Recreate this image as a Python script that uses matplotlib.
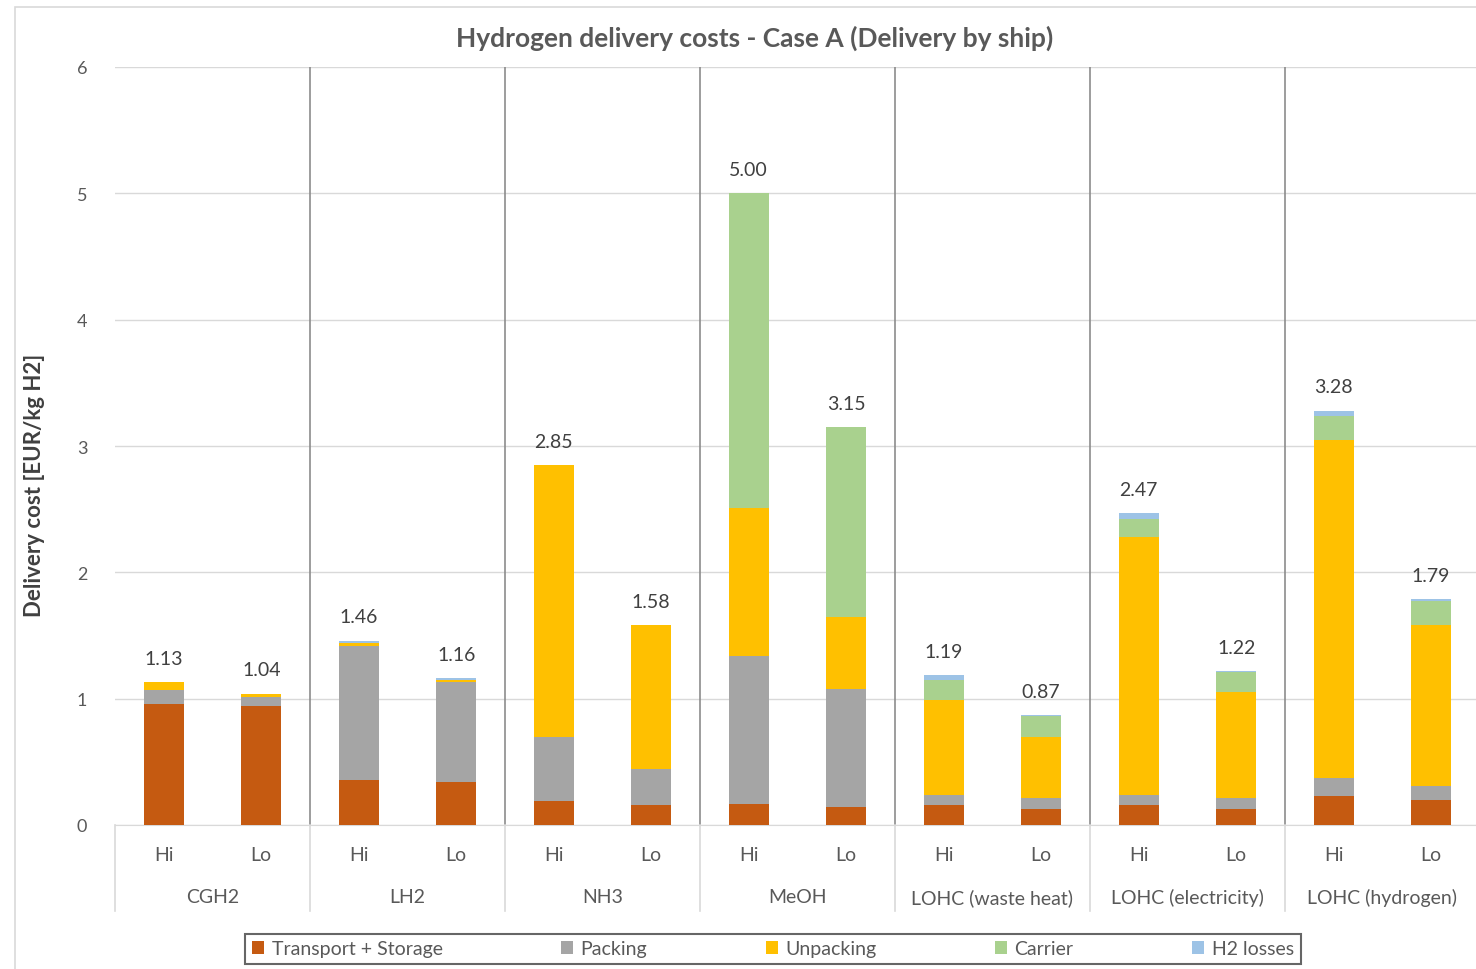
import matplotlib
matplotlib.use("Agg")
import matplotlib.pyplot as plt
import matplotlib.transforms as mtransforms
from matplotlib.patches import Rectangle
from matplotlib.lines import Line2D
import numpy as np

plt.rcParams['font.family'] = ['Lato', 'DejaVu Sans']

groups = ["CGH2", "LH2", "NH3", "MeOH", "LOHC (waste heat)", "LOHC (electricity)", "LOHC (hydrogen)"]
cases = ["Hi", "Lo"]
series = ["Transport + Storage", "Packing", "Unpacking", "Carrier", "H2 losses"]
colors = ["#C55A11", "#A5A5A5", "#FFC000", "#A9D18E", "#9DC3E6"]

transport = [0.96, 0.94, 0.36, 0.34, 0.19, 0.16, 0.17, 0.14, 0.16, 0.13, 0.16, 0.13, 0.23, 0.20]
packing   = [0.11, 0.07, 1.06, 0.79, 0.51, 0.28, 1.17, 0.94, 0.08, 0.08, 0.08, 0.08, 0.14, 0.11]
unpacking = [0.06, 0.03, 0.02, 0.02, 2.15, 1.14, 1.17, 0.57, 0.75, 0.49, 2.04, 0.84, 2.68, 1.27]
carrier   = [0.00, 0.00, 0.00, 0.00, 0.00, 0.00, 2.49, 1.50, 0.16, 0.16, 0.14, 0.16, 0.19, 0.19]
losses    = [0.00, 0.00, 0.02, 0.01, 0.00, 0.00, 0.00, 0.00, 0.04, 0.01, 0.05, 0.01, 0.04, 0.02]
totals    = [1.13, 1.04, 1.46, 1.16, 2.85, 1.58, 5.00, 3.15, 1.19, 0.87, 2.47, 1.22, 3.28, 1.79]

W, H = 1476, 970
fig = plt.figure(figsize=(W / 100, H / 100), dpi=100)

# outer chart border
fig.patches.append(Rectangle((15 / W, -0.01), 1.02, (H - 8) / H + 0.01, transform=fig.transFigure,
                             fill=False, edgecolor="#D9D9D9", linewidth=1.2))

ax = fig.add_axes([115 / W, (H - 826) / H, (W - 115) / W, 758 / H])

data = [transport, packing, unpacking, carrier, losses]
x = np.arange(len(totals))
bottom = np.zeros(len(totals))
bars = []
for vals, name, col in zip(data, series, colors):
    b = ax.bar(x, vals, 0.41, bottom=bottom, color=col, label=name, zorder=3)
    bars.append(b)
    bottom += np.array(vals)

for xi, t in zip(x, totals):
    ax.text(xi, t + 0.12, f"{t:.2f}", ha="center", va="bottom", fontsize=14, color="#404040")

ax.set_ylim(0, 6)
ax.set_xlim(-0.5, 13.46)
ax.set_yticks(range(0, 7))
ax.yaxis.grid(True, color="#D9D9D9", linewidth=1, zorder=0)
ax.set_axisbelow(True)
for s in ["top", "right", "left"]:
    ax.spines[s].set_visible(False)
ax.spines["bottom"].set_color("#D9D9D9")
ax.tick_params(axis="y", length=0, labelsize=13, labelcolor="#595959", pad=20)
ax.tick_params(axis="x", length=0, labelbottom=False)
ax.set_ylabel("Delivery cost [EUR/kg H2]", fontsize=16, color="#404040", fontweight="bold")
ax.yaxis.set_label_coords(-(115 - 45) / 1361, (826 - 485) / 758)

# group separators
for b in np.arange(1.5, 13, 2):
    ax.plot([b, b], [0, 6], color="#8C8C8C", linewidth=1.2, zorder=2)

trans = mtransforms.blended_transform_factory(ax.transData, ax.transAxes)
below = -(912 - 826) / 758
for b in np.arange(-0.5, 13, 2):
    ax.add_line(Line2D([b, b], [0, below], transform=trans, color="#D9D9D9", linewidth=1.2, clip_on=False))

for xi in x:
    ax.text(xi, -(856 - 826) / 758, cases[xi % 2], transform=trans, ha="center", va="center",
            fontsize=14, color="#595959")
for gi, g in enumerate(groups):
    ax.text(2 * gi + 0.5, -(898 - 826) / 758, g, transform=trans, ha="center", va="center",
            fontsize=14, color="#595959")

fig.text(755 / W, (H - 38) / H, "Hydrogen delivery costs - Case A (Delivery by ship)", ha="center", va="center",
         fontsize=19, color="#595959", fontweight="bold")

leg = fig.legend(handles=bars, labels=series, loc="center", bbox_to_anchor=(773 / W, (H - 950) / H),
                 ncol=5, frameon=True, fontsize=14, handlelength=0.6, handleheight=0.6,
                 handletextpad=0.4, columnspacing=6.1, fancybox=False, borderpad=0.35,
                 borderaxespad=0.0)
leg.get_frame().set_edgecolor("#404040")
leg.get_frame().set_linewidth(1.5)
for t in leg.get_texts():
    t.set_color("#595959")

fig.savefig("out.png", dpi=100)
